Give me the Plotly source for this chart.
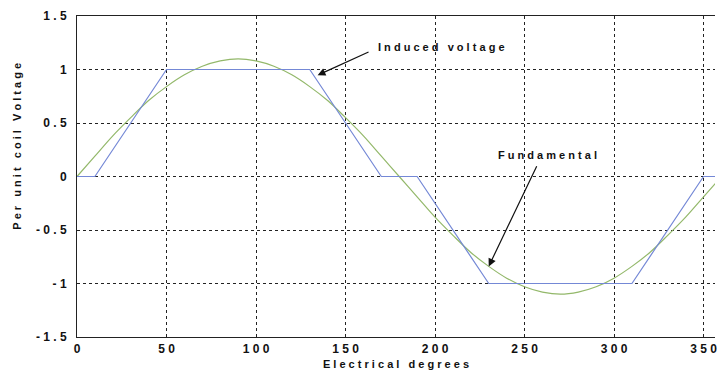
import plotly.graph_objects as go

# Induced (trapezoidal) coil voltage, breakpoints in electrical degrees
induced_deg = [0, 10, 50, 130, 170, 190, 230, 310, 350, 360]
induced_pu = [0, 0, 1, 1, 0, 0, -1, -1, 0, 0]

# Fundamental component, sampled every 10 electrical degrees
fund_deg = list(range(0, 361, 10))
fund_pu = [0.00, 0.19, 0.38, 0.55, 0.71, 0.84, 0.95, 1.03, 1.08, 1.10,
           1.08, 1.03, 0.95, 0.84, 0.71, 0.55, 0.38, 0.19, 0.00,
           -0.19, -0.38, -0.55, -0.71, -0.84, -0.95, -1.03, -1.08, -1.10,
           -1.08, -1.03, -0.95, -0.84, -0.71, -0.55, -0.38, -0.19, 0.00]

x_ticks = [0, 50, 100, 150, 200, 250, 300, 350]
y_ticks = [-1.5, -1, -0.5, 0, 0.5, 1, 1.5]
y_tick_text = ["-1.5", "-1", "-0.5", "0", "0.5", "1", "1.5"]

NB = "\u00a0"


def spaced(s):
    # wide letter spacing, as in the original plotting style
    words = s.split(" ")
    return (NB * 3).join(NB.join(w) for w in words)


FONT = dict(family="Liberation Sans, Arial, sans-serif", size=11, color="#111111",
            weight="bold")
TICK_FONT = dict(family="Liberation Sans, Arial, sans-serif", size=12, color="#111111",
                 weight="bold")

fig = go.Figure()
fig.add_trace(go.Scatter(x=fund_deg, y=fund_pu, mode="lines", line_shape="spline",
                         line=dict(color="#93b86a", width=1.2), showlegend=False))
fig.add_trace(go.Scatter(x=induced_deg, y=induced_pu, mode="lines",
                         line=dict(color="#7488d6", width=1.2), showlegend=False))

fig.update_layout(
    width=717, height=372,
    margin=dict(l=77, r=0, t=16, b=35),
    paper_bgcolor="white", plot_bgcolor="white",
    font=FONT,
    xaxis=dict(range=[0, 356.4], tickvals=x_ticks,
               ticktext=[spaced(str(v)) for v in x_ticks],
               tickfont=TICK_FONT, ticklabeloverflow="allow",
               showgrid=True, gridcolor="#222222", griddash="dot", gridwidth=1,
               showline=True, linecolor="#222222", linewidth=1, mirror=True,
               ticks="", zeroline=False, ticklabelstandoff=1,
               title=dict(text=spaced("Electrical degrees"), standoff=4, font=FONT)),
    yaxis=dict(range=[-1.5, 1.5], tickvals=y_ticks,
               ticktext=[spaced(t) for t in y_tick_text],
               tickfont=TICK_FONT,
               showgrid=True, gridcolor="#222222", griddash="dot", gridwidth=1,
               showline=True, linecolor="#222222", linewidth=1, mirror=False,
               ticks="", zeroline=False, ticklabelstandoff=7),
)

# y-axis title as a rotated label, sitting slightly above the axis centre
fig.add_annotation(x=-61 / 640, y=0.28, xref="paper", yref="y",
                   text=spaced("Per unit coil Voltage"), textangle=-90,
                   showarrow=False, xanchor="center", yanchor="middle", font=FONT)

# arrows drawn as text-free annotations, labels placed separately
fig.add_annotation(x=134.4, y=0.947, ax=163.7, ay=1.17, xref="x", yref="y",
                   axref="x", ayref="y", text="", showarrow=True,
                   arrowhead=2, arrowsize=1.3, arrowwidth=1.2, arrowcolor="#111111")
fig.add_annotation(x=167, y=1.215, xref="x", yref="y", text=spaced("Induced voltage"),
                   showarrow=False, xanchor="left", yanchor="middle", font=FONT)
fig.add_annotation(x=230, y=-0.84, ax=257.2, ay=0.11, xref="x", yref="y",
                   axref="x", ayref="y", text="", showarrow=True,
                   arrowhead=2, arrowsize=1.3, arrowwidth=1.2, arrowcolor="#111111")
fig.add_annotation(x=234, y=0.205, xref="x", yref="y", text=spaced("Fundamental"),
                   showarrow=False, xanchor="left", yanchor="middle", font=FONT)

fig.write_html("out.html")
